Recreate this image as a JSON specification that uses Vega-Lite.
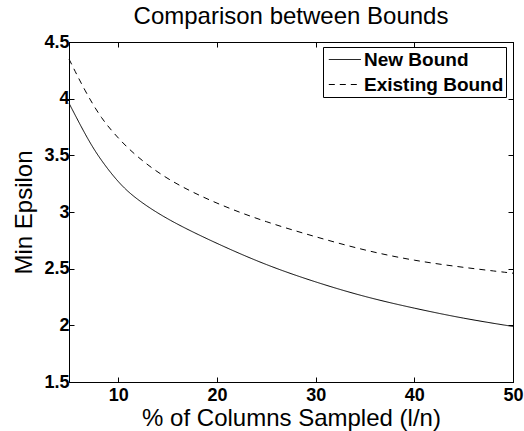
{
  "$schema": "https://vega.github.io/schema/vega-lite/v6.json",
  "width": 444,
  "height": 340,
  "autosize": {"type": "none"},
  "padding": {"left": 69, "top": 42, "right": 11, "bottom": 49},
  "background": "white",
  "title": {"text": "Comparison between Bounds", "fontSize": 24, "fontWeight": "normal", "font": "Liberation Sans", "color": "black", "offset": 4, "frame": "group", "anchor": "middle"},
  "config": {"view": {"stroke": "black", "strokeWidth": 1}, "font": "Liberation Sans"},
  "data": {"values": [
    {"x": 5, "y": 3.96, "series": "New Bound"},
    {"x": 6.96, "y": 3.63, "series": "New Bound"},
    {"x": 8.3, "y": 3.45, "series": "New Bound"},
    {"x": 10, "y": 3.26, "series": "New Bound"},
    {"x": 11.7, "y": 3.12, "series": "New Bound"},
    {"x": 15, "y": 2.93, "series": "New Bound"},
    {"x": 20, "y": 2.72, "series": "New Bound"},
    {"x": 25, "y": 2.53, "series": "New Bound"},
    {"x": 30, "y": 2.38, "series": "New Bound"},
    {"x": 35, "y": 2.25, "series": "New Bound"},
    {"x": 40, "y": 2.15, "series": "New Bound"},
    {"x": 45, "y": 2.06, "series": "New Bound"},
    {"x": 50, "y": 1.99, "series": "New Bound"},
    {"x": 5, "y": 4.35, "series": "Existing Bound"},
    {"x": 6.6, "y": 4.07, "series": "Existing Bound"},
    {"x": 8.3, "y": 3.82, "series": "Existing Bound"},
    {"x": 10, "y": 3.65, "series": "Existing Bound"},
    {"x": 11.7, "y": 3.5, "series": "Existing Bound"},
    {"x": 15, "y": 3.28, "series": "Existing Bound"},
    {"x": 20, "y": 3.07, "series": "Existing Bound"},
    {"x": 25, "y": 2.91, "series": "Existing Bound"},
    {"x": 30, "y": 2.78, "series": "Existing Bound"},
    {"x": 35, "y": 2.66, "series": "Existing Bound"},
    {"x": 40, "y": 2.57, "series": "Existing Bound"},
    {"x": 45, "y": 2.51, "series": "Existing Bound"},
    {"x": 50, "y": 2.46, "series": "Existing Bound"}
  ]},
  "layer": [
    {
      "mark": {"type": "line", "color": "black", "strokeWidth": 1, "interpolate": "basis"},
      "encoding": {
        "x": {"field": "x", "type": "quantitative", "scale": {"domain": [5, 50], "nice": false, "zero": false},
          "axis": {"orient": "bottom", "values": [10, 20, 30, 40, 50], "tickSize": -5, "tickColor": "black", "domainColor": "black", "grid": false,
            "labelFont": "Liberation Sans", "labelFontWeight": "bold", "labelFontSize": 18, "labelColor": "black", "labelFlush": false, "labelPadding": 9,
            "title": "% of Columns Sampled (l/n)", "titleFont": "Liberation Sans", "titleFontSize": 24, "titleFontWeight": "normal", "titleColor": "black", "titlePadding": 2}},
        "y": {"field": "y", "type": "quantitative", "scale": {"domain": [1.5, 4.5], "nice": false, "zero": false},
          "axis": {"orient": "left", "values": [1.5, 2, 2.5, 3, 3.5, 4, 4.5], "format": "~g", "tickSize": -5, "tickColor": "black", "domainColor": "black", "grid": false,
            "labelFont": "Liberation Sans", "labelFontWeight": "bold", "labelFontSize": 18, "labelColor": "black", "labelPadding": 5,
            "title": "Min Epsilon", "titleFont": "Liberation Sans", "titleFontSize": 24, "titleFontWeight": "normal", "titleColor": "black", "titlePadding": 7}},
        "strokeDash": {"field": "series", "type": "nominal",
          "scale": {"domain": ["New Bound", "Existing Bound"], "range": [[1, 0], [6, 5]]},
          "legend": {"orient": "none", "legendX": 254, "legendY": 5, "title": null, "strokeColor": "black", "fillColor": "white", "padding": 2, "cornerRadius": 0,
            "symbolType": "M-0.67,0H2.53", "symbolSize": 400, "symbolStrokeWidth": 1, "symbolStrokeColor": "black",
            "labelFont": "Liberation Sans", "labelFontSize": 19, "labelFontWeight": "bold", "labelColor": "black", "labelOffset": 18, "rowPadding": 4}}
      }
    },
    {
      "mark": {"type": "line", "strokeOpacity": 0},
      "encoding": {
        "x": {"field": "x", "type": "quantitative",
          "axis": {"orient": "top", "values": [10, 20, 30, 40, 50], "tickSize": -5, "tickColor": "black", "domainColor": "black", "labels": false, "title": null, "grid": false}},
        "y": {"field": "y", "type": "quantitative",
          "axis": {"orient": "right", "values": [1.5, 2, 2.5, 3, 3.5, 4, 4.5], "tickSize": -5, "tickColor": "black", "domainColor": "black", "labels": false, "title": null, "grid": false}},
        "detail": {"field": "series"}
      }
    }
  ],
  "resolve": {"axis": {"x": "independent", "y": "independent"}}
}
